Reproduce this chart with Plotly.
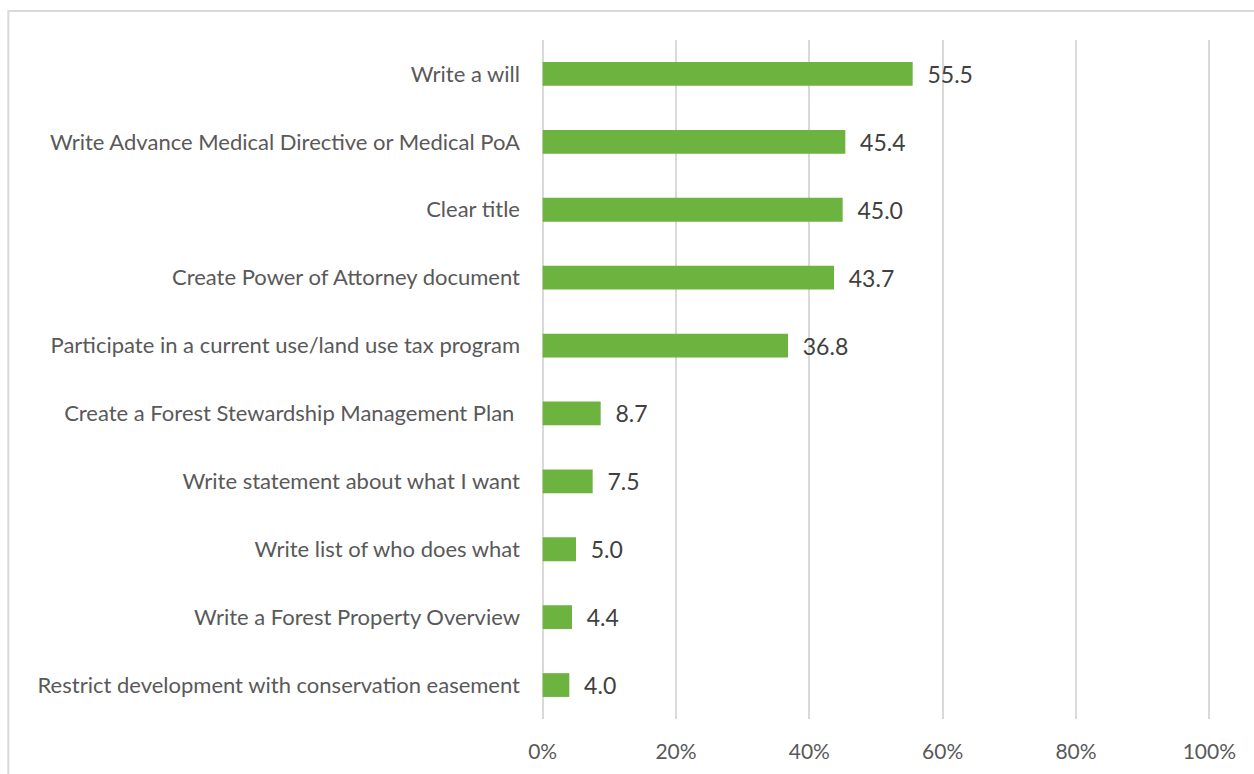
import plotly.graph_objects as go

# Estate-planning actions, listed top to bottom
actions = [
    "Write a will",
    "Write Advance Medical Directive or Medical PoA",
    "Clear title",
    "Create Power of Attorney document",
    "Participate in a current use/land use tax program",
    "Create a Forest Stewardship Management Plan ",
    "Write statement about what I want",
    "Write list of who does what",
    "Write a Forest Property Overview",
    "Restrict development with conservation easement",
]
percent = [55.5, 45.4, 45.0, 43.7, 36.8, 8.7, 7.5, 5.0, 4.4, 4.0]
x_ticks = [0, 20, 40, 60, 80, 100]
x_tick_labels = ["0%", "20%", "40%", "60%", "80%", "100%"]

FONT = "Lato, Calibri, Carlito, sans-serif"
FS = 22
GRID = "#d9d9d9"

fig = go.Figure(
    go.Bar(
        x=percent,
        y=actions,
        orientation="h",
        marker=dict(color="#6db33f", line=dict(width=0)),
        width=0.35,
        text=[f"{v:.1f}" for v in percent],
        texttemplate="  %{text}",
        textposition="outside",
        constraintext="none",
        textfont=dict(family=FONT, size=23, color="#404040"),
        cliponaxis=False,
    )
)

fig.update_layout(
    width=1254,
    height=774,
    margin=dict(l=536, r=38, t=40, b=55),
    paper_bgcolor="white",
    plot_bgcolor="white",
    showlegend=False,
    font=dict(family=FONT, size=FS, color="#595959"),
    bargap=0.65,
    shapes=[
        dict(
            type="rect", xref="paper", yref="paper",
            x0=-0.776, x1=1.2, y0=-0.2, y1=1.0427,
            line=dict(color=GRID, width=2),
            fillcolor="rgba(0,0,0,0)", layer="below",
        )
    ],
)

fig.update_xaxes(
    range=[-1, 101],
    tickvals=x_ticks,
    ticktext=x_tick_labels,
    showgrid=True,
    gridcolor=GRID,
    gridwidth=1.5,
    zeroline=False,
    showline=False,
    ticks="",
    ticklabelstandoff=18,
    tickfont=dict(family=FONT, size=21, color="#595959"),
)
fig.update_yaxes(
    categoryorder="array",
    categoryarray=actions[::-1],
    showgrid=False,
    zeroline=False,
    showline=False,
    ticks="",
    ticklabelstandoff=15,
    tickfont=dict(family=FONT, size=FS, color="#595959"),
)

fig.write_html("out.html")
